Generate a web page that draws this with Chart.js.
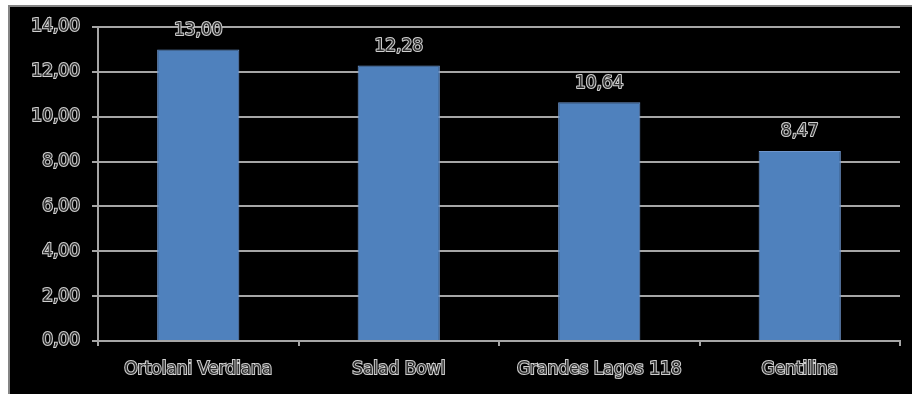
<!DOCTYPE html>
<html>
<head>
<meta charset="utf-8">
<script src="https://cdn.jsdelivr.net/npm/chart.js@4"></script>
<style>
  html, body { margin: 0; padding: 0; background: #fff; width: 912px; height: 394px; overflow: hidden; }
  #frame {
    position: absolute; left: 8px; top: 5px; width: 902px; height: 387px;
    border-left: 2px solid #858585; border-top: 2px solid #858585;
    background: #000;
  }
  #chart { display: block; }
</style>
</head>
<body>
<div id="frame"><canvas id="chart" width="902" height="387"></canvas></div>
<script>
// Varieties and their measured values
const categories = ['Ortolani Verdiana', 'Salad Bowl', 'Grandes Lagos 118', 'Gentilina'];
const values = [13.00, 12.28, 10.64, 8.47];
const yTicks = [0, 2, 4, 6, 8, 10, 12, 14];

const fmt = v => v.toFixed(2).replace('.', ',');
const FONT = { family: '"DejaVu Sans", Verdana, sans-serif', size: 17 };
const TEXT_FILL = '#303030';
const TEXT_STROKE = '#d0d0d0';

// Value labels above each bar
const valueLabels = {
  id: 'valueLabels',
  afterDatasetsDraw(chart) {
    const ctx = chart.ctx;
    const meta = chart.getDatasetMeta(0);
    ctx.save();
    ctx.font = `${FONT.size}px ${FONT.family}`;
    ctx.textAlign = 'center';
    ctx.textBaseline = 'middle';
    ctx.lineJoin = 'round';
    meta.data.forEach((bar, i) => {
      const txt = fmt(values[i]);
      const y = bar.y - 19;
      ctx.lineWidth = 2;
      ctx.strokeStyle = TEXT_STROKE;
      ctx.strokeText(txt, bar.x, y);
      ctx.fillStyle = TEXT_FILL;
      ctx.fillText(txt, bar.x, y);
    });
    ctx.restore();
  }
};

new Chart(document.getElementById('chart'), {
  type: 'bar',
  data: {
    labels: categories,
    datasets: [{
      data: values,
      backgroundColor: '#4F81BD',
      borderColor: '#6f96cc',
      borderWidth: 1,
      barPercentage: 0.41,
      categoryPercentage: 1.0
    }]
  },
  options: {
    responsive: false,
    animation: false,
    devicePixelRatio: 1,
    layout: { padding: { top: 20, right: 12, left: 0, bottom: 0 } },
    plugins: { legend: { display: false }, tooltip: { enabled: false } },
    scales: {
      x: {
        grid: {
          display: true,
          drawOnChartArea: false,
          drawTicks: true,
          tickLength: 5,
          color: '#a6a6a6',
          lineWidth: 2,
          offset: true
        },
        border: { display: true, color: '#a6a6a6', width: 2 },
        ticks: {
          color: TEXT_FILL,
          textStrokeColor: TEXT_STROKE,
          textStrokeWidth: 2,
          font: FONT,
          padding: 13,
          maxRotation: 0,
          autoSkip: false
        },
        afterFit(scale) { scale.height = 53; }
      },
      y: {
        min: 0,
        max: 14,
        afterBuildTicks(scale) { scale.ticks = yTicks.map(v => ({ value: v })); },
        grid: {
          color: '#a6a6a6',
          lineWidth: 2,
          drawTicks: true,
          tickLength: 6
        },
        border: { display: true, color: '#a6a6a6', width: 2 },
        ticks: {
          color: TEXT_FILL,
          textStrokeColor: TEXT_STROKE,
          textStrokeWidth: 2,
          font: FONT,
          padding: 12,
          callback: v => fmt(v)
        },
        afterFit(scale) {
          scale.width = 88;
          scale.paddingTop = 10;
          scale.paddingBottom = 10;
        }
      }
    }
  },
  plugins: [valueLabels]
});
</script>
</body>
</html>
